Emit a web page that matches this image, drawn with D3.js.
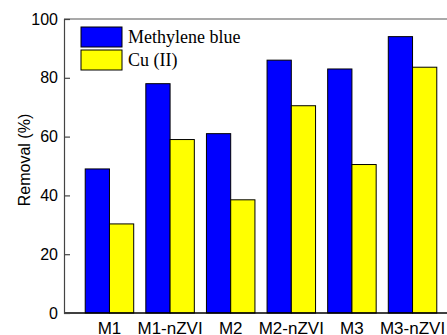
<!DOCTYPE html>
<meta charset="utf-8">
<style>
  body { margin: 0; background: #fff; }
  svg { display: block; }
</style>
<svg width="447" height="335"></svg>
<script src="https://d3js.org/d3.v7.min.js"></script>
<script>
var samples = ["M1", "M1-nZVI", "M2", "M2-nZVI", "M3", "M3-nZVI"];
var series = ["Methylene blue", "Cu (II)"];
var methyleneBlue = [49, 78, 61, 86, 83, 94];
var copper = [30.3, 59, 38.5, 70.5, 50.5, 83.6];
var yTicks = [0, 20, 40, 60, 80, 100];
var colors = ["#0000ff", "#ffff00"];

var svg = d3.select("svg");
var mLeft = 64, mTop = 19, mBottom = 313, mRight = 458;

var x = d3.scaleBand().domain(samples).range([mLeft, mRight]).paddingInner(0.2).paddingOuter(0.35);
var xs = d3.scaleBand().domain(series).range([0, x.bandwidth()]);
var y = d3.scaleLinear().domain([0, 100]).range([mBottom, mTop]);

var rows = samples.map(function(s, i){ return {name: s, values: [methyleneBlue[i], copper[i]]}; });

// bars
var g = svg.append("g").selectAll("g").data(rows).join("g")
    .attr("transform", function(d){ return "translate(" + x(d.name) + ",0)"; });
g.selectAll("rect").data(function(d){ return d.values; }).join("rect")
    .attr("x", function(d, i){ return xs(series[i]); })
    .attr("y", function(d){ return y(d); })
    .attr("width", xs.bandwidth())
    .attr("height", function(d){ return y(0) - y(d); })
    .attr("fill", function(d, i){ return colors[i]; })
    .attr("stroke", "#000").attr("stroke-width", 1);

// frame
svg.append("line").attr("x1", mLeft).attr("x2", 447).attr("y1", mTop).attr("y2", mTop)
    .attr("stroke", "#555").attr("stroke-width", 1.2);
svg.append("line").attr("x1", mLeft).attr("x2", 447).attr("y1", mBottom).attr("y2", mBottom)
    .attr("stroke", "#000").attr("stroke-width", 1.6);

// y axis, ticks inward
var yAxis = svg.append("g").attr("transform", "translate(" + mLeft + ",0)")
    .call(d3.axisRight(y).tickValues(yTicks).tickSize(6).tickFormat(d3.format("d")));
yAxis.select(".domain").attr("stroke", "#444").attr("stroke-width", 1.2);
yAxis.selectAll(".tick line").attr("stroke", "#444").attr("stroke-width", 1.2);
yAxis.selectAll(".tick text").attr("x", -6).attr("text-anchor", "end")
    .attr("font-family", "Liberation Sans, Arial, sans-serif").attr("font-size", 16).attr("fill", "#000");

// x labels
svg.append("g").selectAll("text").data(samples).join("text")
    .attr("x", function(d){ return x(d) + x.bandwidth() / 2; })
    .attr("y", 334)
    .attr("text-anchor", "middle")
    .attr("font-family", "Liberation Sans, Arial, sans-serif").attr("font-size", 17)
    .text(function(d){ return d; });

// y label
svg.append("text")
    .attr("transform", "translate(30,160) rotate(-90)")
    .attr("text-anchor", "middle")
    .attr("font-family", "Liberation Sans, Arial, sans-serif").attr("font-size", 16)
    .text("Removal (%)");

// legend
var lg = svg.append("g").selectAll("g").data(series).join("g")
    .attr("transform", function(d, i){ return "translate(81," + (27 + i * 23) + ")"; });
lg.append("rect").attr("width", 41).attr("height", 20)
    .attr("fill", function(d, i){ return colors[i]; }).attr("stroke", "#000");
lg.append("text").attr("x", 47).attr("y", 16)
    .attr("font-family", "Liberation Serif, Times New Roman, serif").attr("font-size", 18)
    .text(function(d){ return d; });
</script>
